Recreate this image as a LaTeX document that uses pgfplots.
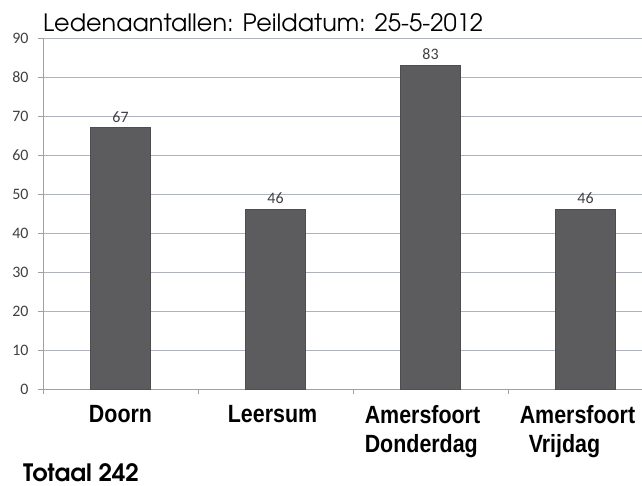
\documentclass[border=0pt]{standalone}
\usepackage{pgfplots}
\pgfplotsset{compat=1.18}
\usepackage{fontspec}
\setmainfont{Carlito}
\newfontfamily\labfont[FakeStretch=0.86]{Liberation Sans}
\newfontfamily\gothic{texgyreadventor}[Extension=.otf, UprightFont=*-regular, BoldFont=*-bold]
\definecolor{barc}{HTML}{5C5C5E}
\definecolor{gridc}{HTML}{AEB2BE}
\definecolor{axisc}{HTML}{A0A0A0}
\definecolor{numc}{HTML}{404040}
\begin{document}
\begin{tikzpicture}
\useasboundingbox[fill=white] (0,0) rectangle (642bp,486bp);
\begin{axis}[
  at={(43bp,97bp)}, anchor=south west,
  scale only axis, width=620bp, height=351bp,
  xmin=-0.5, xmax=3.5, ymin=0, ymax=90,
  /pgf/number format/assume math mode=true,
  ytick={0,10,...,90},
  xtick={0,1,2,3},
  xticklabels={Doorn, Leersum\hspace*{6bp}, Amersfoort\hspace*{16bp}\\Donderdag, Amersfoort\hspace*{16bp}\\\hspace*{9bp}Vrijdag},
  x tick label style={font=\labfont\bfseries\fontsize{25}{29}\selectfont, align=left, text=black, yshift=-8bp},
  y tick label style={font=\fontsize{16}{16}\selectfont, text=numc, xshift=-6bp},
  axis x line*=bottom, axis y line*=left,
  axis line style={axisc, line width=0.8bp},
  tick align=outside, major tick length=5bp,
  xtick style={draw=none},
  ytick style={axisc, line width=0.8bp},
  extra x ticks={-0.5,0.5,1.5,2.5,3.5},
  extra x tick labels={},
  extra x tick style={grid=none, xtick style={draw=axisc, line width=0.8bp}},
  ymajorgrids, grid style={gridc, line width=0.7bp},
  ybar, bar width=60bp,
  nodes near coords,
  every node near coord/.append style={font=\fontsize{16}{16}\selectfont, text=numc, yshift=2bp},
  clip=false,
]
\addplot[fill=barc, draw=barc!85!black, line width=0.5bp] coordinates {(0,67) (1,46) (2,83) (3,46)};
\end{axis}
\node[anchor=base west, inner sep=0pt, font=\gothic\fontsize{24}{24}\selectfont] at (43bp,454bp) {Ledenaantallen: Peildatum: 25-5-2012};
\node[anchor=base west, inner sep=0pt, font=\gothic\bfseries\fontsize{24}{24}\selectfont] at (23bp,5bp) {Totaal 242};
\end{tikzpicture}
\end{document}
